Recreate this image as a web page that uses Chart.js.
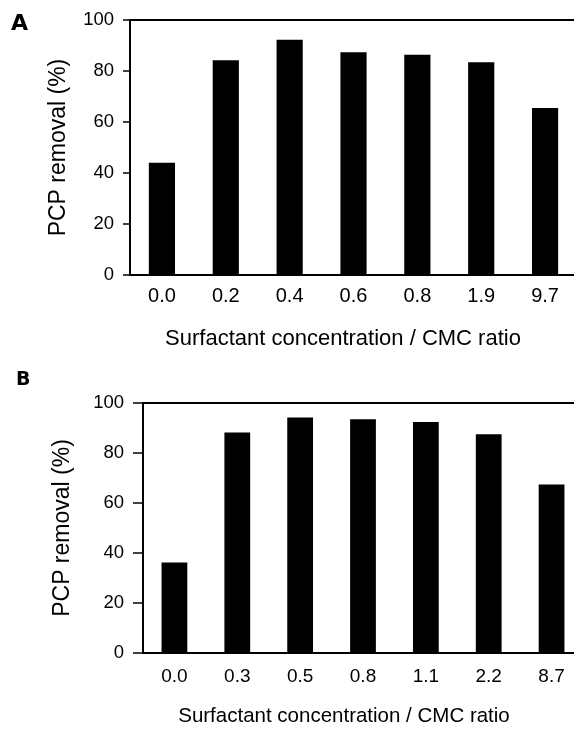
<!DOCTYPE html>
<html lang="en">
<head>
  <meta charset="UTF-8">
  <title>PCP removal vs surfactant concentration</title>
  <script src="https://cdn.jsdelivr.net/npm/chart.js"></script>
  <style>
    * { box-sizing: border-box; margin: 0; padding: 0; }
    html, body { width: 574px; height: 729px; overflow: hidden; background: #fff; }
    body { position: relative; font-family: 'Liberation Sans', Arial, sans-serif; color: #000; }
    .panel { position: absolute; left: 0; }
    .letter { position: absolute; font-family: 'DejaVu Sans', sans-serif; font-weight: bold; line-height: 1; }
    .xtitle { position: absolute; width: 420px; text-align: center; line-height: 1; white-space: nowrap; }
  </style>
</head>
<body>
  <div class="panel" id="wrapA" style="top:0; width:577px; height:350px;"><canvas id="chartA"></canvas></div>
  <div class="panel" id="wrapB" style="top:360px; width:583px; height:369px;"><canvas id="chartB"></canvas></div>
  <div class="letter" style="left:11px; top:12px; font-size:22px;">A</div>
  <div class="letter" style="left:16px; top:369px; font-size:19px;">B</div>
  <div class="xtitle" id="titleA" style="left:133px; top:327px; font-size:22px;"></div>
  <div class="xtitle" id="titleB" style="left:134px; top:705px; font-size:20.5px;"></div>

  <script>
    // data
    const labelsA = ['0.0', '0.2', '0.4', '0.6', '0.8', '1.9', '9.7'];
    const removalA = [44, 84.2, 92.3, 87.4, 86.4, 83.5, 65.5];
    const labelsB = ['0.0', '0.3', '0.5', '0.8', '1.1', '2.2', '8.7'];
    const removalB = [36.2, 88.2, 94.2, 93.5, 92.4, 87.5, 67.4];
    const yTitle = 'PCP removal (%)';
    const xTitle = 'Surfactant concentration / CMC ratio';

    const font = 'Liberation Sans, Arial, sans-serif';
    document.getElementById('titleA').textContent = xTitle;
    document.getElementById('titleB').textContent = xTitle;

    function makeChart(id, labels, values, lay) {
      const ctx = document.getElementById(id).getContext('2d');
      return new Chart(ctx, {
        type: 'bar',
        data: {
          labels: labels,
          datasets: [{ data: values, backgroundColor: '#000', borderWidth: 0,
                       categoryPercentage: 1, barPercentage: 0.41 }]
        },
        options: {
          responsive: true, maintainAspectRatio: false, animation: false,
          layout: { padding: { top: lay.top, left: 0, right: 0, bottom: 0 } },
          plugins: { legend: { display: false }, tooltip: { enabled: false } },
          scales: {
            x: {
              grid: { display: false, drawTicks: false },
              border: { display: true, color: '#000', width: 2 },
              ticks: { color: '#000', padding: lay.xPad, font: { family: font, size: lay.xFont } },
              afterFit: s => { s.height = lay.xHeight; }
            },
            y: {
              min: 0, max: 100,
              grid: {
                drawTicks: true, tickLength: lay.tickLen, tickColor: '#000', tickWidth: 1.5,
                color: c => (c.tick && c.tick.value === 100) ? '#000' : 'rgba(0,0,0,0)',
                lineWidth: 2
              },
              border: { display: true, color: '#000', width: 2 },
              ticks: { stepSize: 20, color: '#000', padding: lay.yPad, font: { family: font, size: 18.5 } },
              title: { display: true, text: yTitle, color: '#000',
                       font: { family: font, size: 23 }, padding: { top: lay.yTitleTop, bottom: 0 } },
              afterFit: s => { s.width = lay.yWidth; }
            }
          }
        }
      });
    }

    makeChart('chartA', labelsA, removalA,
      { top: 16, xHeight: 75, xPad: 9, xFont: 20, tickLen: 7, yPad: 9, yWidth: 130, yTitleTop: 45 });
    makeChart('chartB', labelsB, removalB,
      { top: 43, xHeight: 76, xPad: 12, xFont: 19, tickLen: 10, yPad: 9, yWidth: 143, yTitleTop: 49 });
  </script>
</body>
</html>
